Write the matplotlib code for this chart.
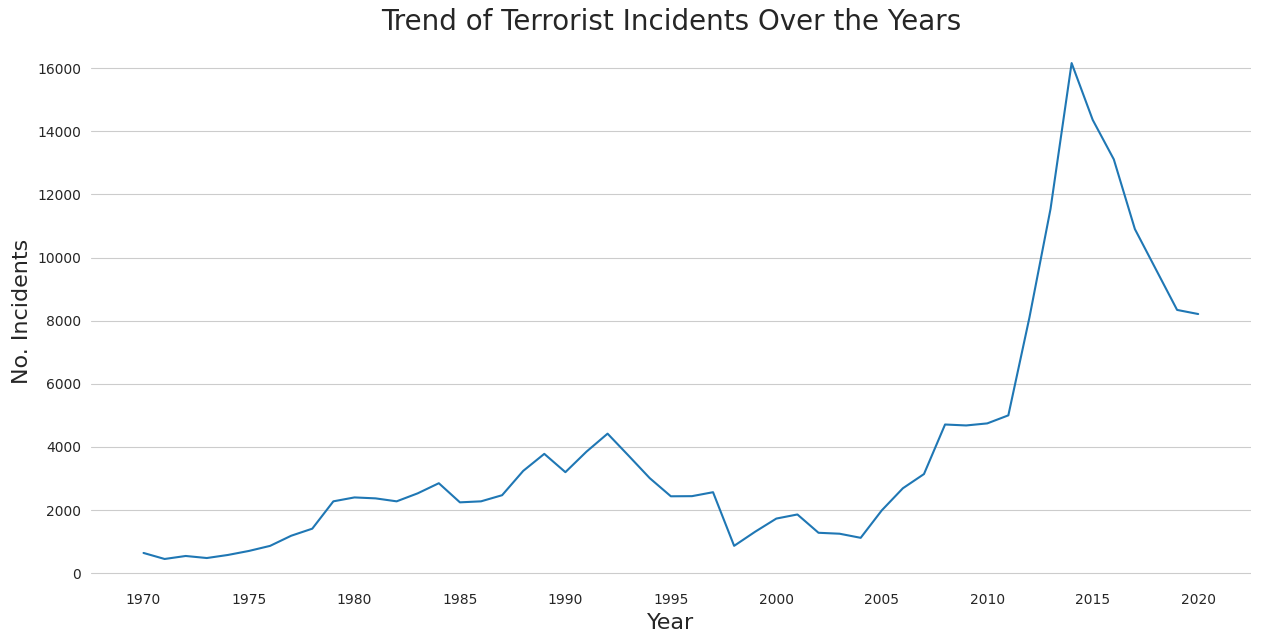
import matplotlib
matplotlib.use("Agg")
import matplotlib.pyplot as plt
import seaborn as sns

years = list(range(1970, 2021))
incidents = [641, 450, 545, 480, 577, 705, 865, 1186, 1410, 2276,
             2400, 2370, 2276, 2530, 2850, 2244, 2276, 2470, 3240, 3780,
             3200, 3850, 4420, 3720, 3010, 2436, 2440, 2565, 866, 1315,
             1730, 1860, 1280, 1250, 1120, 1990, 2690, 3140, 4710, 4680,
             4745, 5000, 8100, 11540, 16160, 14360, 13110, 10900, 9620, 8340,
             8210]

sns.set_style("whitegrid")
fig, ax = plt.subplots(figsize=(12.61, 6.38), dpi=100)
ax.plot(years, incidents, color="#1f77b4", linewidth=1.5)
ax.set_title("Trend of Terrorist Incidents Over the Years", fontsize=20)
ax.set_xlabel("Year", fontsize=16)
ax.set_ylabel("No. Incidents", fontsize=16)
ax.xaxis.grid(False)
for s in ax.spines.values():
    s.set_visible(False)
ax.set_xticks(range(1970, 2021, 5))
fig.subplots_adjust(left=0.072, right=0.992, top=0.94, bottom=0.085)
fig.savefig("out.png", dpi=100)
